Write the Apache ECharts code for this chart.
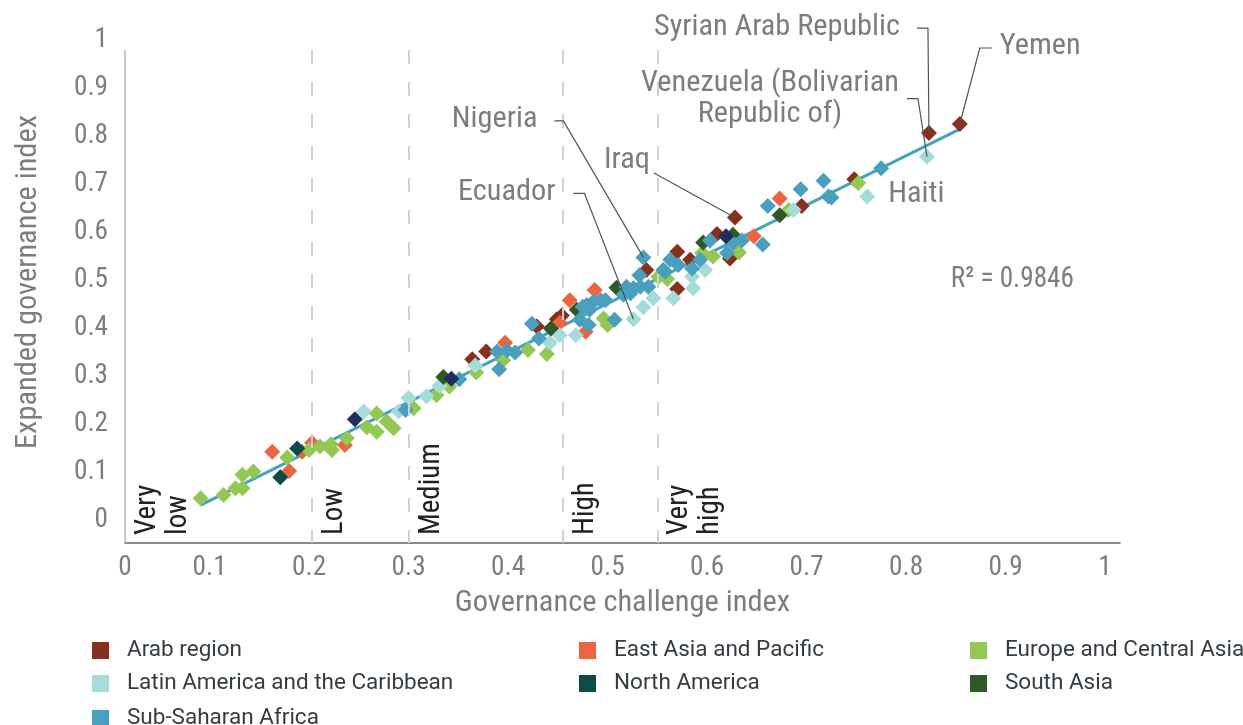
<!DOCTYPE html>
<html>
<head>
<meta charset="utf-8">
<script src="https://cdn.jsdelivr.net/npm/echarts@6/dist/echarts.min.js"></script>
<style>
  html, body { margin: 0; padding: 0; background: #ffffff; }
  #chart { width: 1243px; height: 725px; }
</style>
</head>
<body>
<div id="chart"></div>
<script>
// Governance challenge index (x) vs expanded governance index (y), one array per region.
// An optional third entry names a country that gets a callout.
const arabRegion = [
  [0.364, 0.335], [0.378, 0.351], [0.429, 0.403], [0.449, 0.418], [0.454, 0.426],
  [0.539, 0.521], [0.570, 0.559], [0.570, 0.481], [0.583, 0.542], [0.610, 0.596],
  [0.623, 0.545], [0.628, 0.630, 'Iraq'], [0.695, 0.654], [0.748, 0.710],
  [0.823, 0.806, 'Syrian Arab Republic'], [0.854, 0.825, 'Yemen']
];
const eastAsiaPacific = [
  [0.163, 0.142], [0.180, 0.102], [0.193, 0.142], [0.203, 0.161], [0.236, 0.156],
  [0.397, 0.369], [0.452, 0.411], [0.462, 0.458], [0.478, 0.392], [0.487, 0.479],
  [0.647, 0.591], [0.673, 0.670]
];
const europeCentralAsia = [
  [0.091, 0.045], [0.114, 0.052], [0.126, 0.066], [0.133, 0.066], [0.133, 0.094],
  [0.144, 0.101], [0.178, 0.130], [0.200, 0.146], [0.211, 0.153], [0.222, 0.158],
  [0.223, 0.146], [0.238, 0.170], [0.258, 0.193], [0.268, 0.222], [0.268, 0.184],
  [0.278, 0.205], [0.285, 0.191], [0.305, 0.233], [0.328, 0.260], [0.341, 0.278],
  [0.368, 0.307], [0.395, 0.333], [0.420, 0.354], [0.439, 0.346], [0.496, 0.420],
  [0.500, 0.406], [0.551, 0.506], [0.560, 0.502], [0.595, 0.556], [0.606, 0.549],
  [0.632, 0.557], [0.682, 0.646], [0.752, 0.702]
];
const latinAmericaCaribbean = [
  [0.255, 0.226], [0.290, 0.226], [0.300, 0.254], [0.318, 0.258], [0.331, 0.279],
  [0.367, 0.322], [0.442, 0.369], [0.452, 0.385], [0.468, 0.385],
  [0.526, 0.418, 'Ecuador'], [0.536, 0.443], [0.546, 0.462], [0.566, 0.462],
  [0.586, 0.483], [0.585, 0.507], [0.598, 0.521], [0.687, 0.646],
  [0.761, 0.674, 'Haiti'], [0.821, 0.757, 'Venezuela (Bolivarian Republic of)']
];
const northAmerica = [
  [0.188, 0.149], [0.171, 0.089]
];
const southAsia = [
  [0.335, 0.298], [0.443, 0.399], [0.469, 0.438], [0.509, 0.484], [0.596, 0.578],
  [0.626, 0.594], [0.673, 0.635]
];
const subSaharanAfrica = [
  [0.297, 0.229], [0.351, 0.293], [0.389, 0.351], [0.391, 0.314], [0.399, 0.353],
  [0.407, 0.349], [0.424, 0.409], [0.431, 0.378], [0.472, 0.417], [0.481, 0.406],
  [0.475, 0.444], [0.479, 0.448], [0.482, 0.438], [0.486, 0.455], [0.493, 0.458],
  [0.498, 0.458], [0.507, 0.417], [0.516, 0.469], [0.519, 0.486], [0.523, 0.472],
  [0.526, 0.483], [0.532, 0.510], [0.533, 0.486], [0.536, 0.547, 'Nigeria'],
  [0.541, 0.486], [0.556, 0.521], [0.558, 0.517], [0.563, 0.542], [0.571, 0.531],
  [0.585, 0.524], [0.593, 0.542], [0.603, 0.582], [0.620, 0.556], [0.626, 0.577],
  [0.635, 0.582], [0.656, 0.574], [0.661, 0.654], [0.694, 0.689], [0.717, 0.707],
  [0.722, 0.674], [0.725, 0.672], [0.775, 0.733]
];
const otherCountries = [
  [0.246, 0.210], [0.343, 0.294], [0.619, 0.591]
];

const xTicks = [0, 0.1, 0.2, 0.3, 0.4, 0.5, 0.6, 0.7, 0.8, 0.9, 1];
const xTickLabels = ['0', '0.1', '0.2', '0.3', '0.4', '0.5', '0.6', '0.7', '0.8', '0.9', '1'];
const yTicks = [0, 0.1, 0.2, 0.3, 0.4, 0.5, 0.6, 0.7, 0.8, 0.9, 1];
const yTickLabels = ['0', '0.1', '0.2', '0.3', '0.4', '0.5', '0.6', '0.7', '0.8', '0.9', '1'];

// Challenge bands: where each band starts on the x axis, and its name
const bandStarts = [0.015, 0.203, 0.300, 0.455, 0.550];
const bandNames = ['Very\nlow', 'Low', 'Medium', 'High', 'Very\nhigh'];

const rSquared = 0.9846;

const regionSeries = [
  { name: 'Arab region', data: arabRegion, color: '#85311b' },
  { name: 'East Asia and Pacific', data: eastAsiaPacific, color: '#ec6440' },
  { name: 'Europe and Central Asia', data: europeCentralAsia, color: '#93c854' },
  { name: 'Latin America and the Caribbean', data: latinAmericaCaribbean, color: '#a6dcd8' },
  { name: 'North America', data: northAmerica, color: '#0d4a48' },
  { name: 'South Asia', data: southAsia, color: '#2f5a27' },
  { name: 'Sub-Saharan Africa', data: subSaharanAfrica, color: '#4a9fbd' },
  { name: 'Other', data: otherCountries, color: '#1f2d5e' }
];

// ---- fonts: prefer a condensed face, size text to its design width ----
const measureCtx = document.createElement('canvas').getContext('2d');
function hasFont(family) {
  const s = 'Governance challenge index 0.123';
  measureCtx.font = '40px monospace'; const w0 = measureCtx.measureText(s).width;
  measureCtx.font = `40px '${family}', monospace`; const w1 = measureCtx.measureText(s).width;
  return Math.abs(w0 - w1) > 0.5;
}
const narrowFamily = ['Roboto Condensed', 'Liberation Sans Narrow', 'Arial Narrow', 'DejaVu Sans Condensed'].find(hasFont);
const FONT = narrowFamily ? `'${narrowFamily}'` : "'Roboto', sans-serif";
function textWidth(text, size) {
  measureCtx.font = `${size}px ${FONT}`;
  return Math.max(...text.split('\n').map(t => measureCtx.measureText(t).width));
}
// font size at which a sample string spans a given width
const sizeForWidth = (sample, width) => Math.round(40 * width / textWidth(sample, 40) * 10) / 10;
// horizontal scale so a sample string spans a given width at a given size
const squeezeFor = (sample, size, width) => Math.min(1.15, Math.max(0.8, width / textWidth(sample, size)));

const GREY = '#7d7d7d';
const tickSize = sizeForWidth('0.4', 34);
const titleSize = sizeForWidth('Governance challenge index', 335);
const noteSize = 30;
const noteSqueeze = squeezeFor('Syrian Arab Republic', noteSize, 246);
const fitNote = 'R² = ' + rSquared.toFixed(4);
const fitSqueeze = squeezeFor(fitNote, noteSize, 123);
const bandSize = 30;
const bandSqueeze = squeezeFor('Medium', bandSize, 92);

// ---- axis frame ----
const X_MIN = 0.015, X_MAX = 1.015;
const Y_MIN = -0.048, Y_MAX = 1.0, Y_LINE_TOP = 0.979;

// least-squares trend over every plotted country
const allPoints = regionSeries.flatMap(s => s.data);
const n = allPoints.length;
const mx = allPoints.reduce((a, p) => a + p[0], 0) / n;
const my = allPoints.reduce((a, p) => a + p[1], 0) / n;
let sxy = 0, sxx = 0;
allPoints.forEach(p => { sxy += (p[0] - mx) * (p[1] - my); sxx += (p[0] - mx) ** 2; });
const slope = sxy / sxx;
const intercept = my - slope * mx;
const xLo = Math.min(...allPoints.map(p => p[0]));
const xHi = Math.max(...allPoints.map(p => p[0]));
const trendData = [[xLo, intercept + slope * xLo], [xHi, intercept + slope * xHi]];

function nearestLabel(v, ticks, labels) {
  let best = 0;
  ticks.forEach((t, i) => { if (Math.abs(t - v) < Math.abs(ticks[best] - v)) best = i; });
  return labels[best];
}
const clampX = v => Math.min(Math.max(v, X_MIN), X_MAX);

const chart = echarts.init(document.getElementById('chart'), null, { renderer: 'canvas' });

// legend: one entry per slot, three columns
const legendSlots = [
  { name: 'Arab region', left: 92, top: 639 },
  { name: 'East Asia and Pacific', left: 579, top: 639 },
  { name: 'Europe and Central Asia', left: 970, top: 639 },
  { name: 'Latin America and the Caribbean', left: 92, top: 672 },
  { name: 'North America', left: 579, top: 672 },
  { name: 'South Asia', left: 970, top: 672 },
  { name: 'Sub-Saharan Africa', left: 92, top: 707 }
];

const option = {
  animation: false,
  backgroundColor: '#ffffff',
  grid: { left: 125, right: 123, top: 40, bottom: 182, containLabel: false },
  legend: legendSlots.map(s => ({
    left: s.left,
    top: s.top,
    data: [s.name],
    orient: 'horizontal',
    icon: 'rect',
    itemWidth: 17,
    itemHeight: 17,
    padding: 0,
    selectedMode: false,
    textStyle: { fontFamily: 'Roboto', fontSize: 22.5, lineHeight: 17, color: '#343c42', padding: [0, 0, 0, 13] }
  })),
  xAxis: {
    type: 'value',
    min: X_MIN,
    max: X_MAX,
    name: 'Governance challenge index',
    nameLocation: 'middle',
    nameGap: 45,
    nameTextStyle: { fontFamily: FONT, fontSize: titleSize, color: GREY },
    axisLine: { show: true, onZero: false, lineStyle: { color: '#5b6670', width: 1.5 } },
    axisTick: { show: false },
    splitLine: { show: false },
    axisLabel: {
      customValues: xTicks.map(clampX),
      formatter: v => nearestLabel(v, xTicks, xTickLabels),
      fontFamily: FONT, fontSize: tickSize, color: GREY, margin: 12
    }
  },
  yAxis: {
    type: 'value',
    min: Y_MIN,
    max: Y_MAX,
    name: 'Expanded governance index',
    nameLocation: 'middle',
    nameGap: 82,
    nameRotate: 90,
    nameTextStyle: { fontFamily: FONT, fontSize: titleSize, color: GREY, padding: [0, 0, 0, 19] },
    axisLine: { show: false, onZero: false },
    axisTick: { show: false },
    splitLine: { show: false },
    axisLabel: {
      customValues: yTicks,
      formatter: v => nearestLabel(v, yTicks, yTickLabels),
      fontFamily: FONT, fontSize: tickSize, color: GREY, margin: 17
    }
  },
  series: [
    {
      // axis frame line and band boundaries
      type: 'line',
      name: 'frame',
      data: [],
      silent: true,
      markLine: {
        silent: true,
        symbol: 'none',
        label: { show: false },
        emphasis: { disabled: true },
        data: [
          [{ coord: [X_MIN, Y_LINE_TOP], lineStyle: { color: '#b8b8b8', width: 1.5, type: 'solid' } },
           { coord: [X_MIN, Y_MIN] }]
        ].concat(bandStarts.slice(1).map(x => [
          { coord: [x, Y_LINE_TOP], lineStyle: { color: '#d0d0d0', width: 2, type: [14, 18] } },
          { coord: [x, Y_MIN] }
        ]))
      }
    },
    {
      type: 'line',
      name: 'trend',
      data: trendData,
      showSymbol: false,
      silent: true,
      z: 1,
      lineStyle: { color: '#45a2c7', width: 3 }
    }
  ].concat(regionSeries.map(s => ({
    type: 'scatter',
    name: s.name,
    data: s.data,
    symbol: 'diamond',
    symbolSize: 16,
    z: 3,
    itemStyle: { color: s.color, opacity: 1 },
    emphasis: { disabled: true }
  })))
};

chart.setOption(option);

// ---- annotations placed from data positions ----
const toPx = p => chart.convertToPixel({ xAxisIndex: 0, yAxisIndex: 0 }, p);
const findPoint = name => {
  for (const s of regionSeries) {
    const hit = s.data.find(d => d[2] === name);
    if (hit) return hit;
  }
  return null;
};

const graphics = [];

// band labels, reading upwards from the x axis
bandStarts.forEach((x, i) => {
  const p = toPx([x, Y_MIN]);
  graphics.push({
    type: 'text',
    x: p[0] + 7,
    y: p[1] - 8,
    rotation: Math.PI / 2,
    scaleX: bandSqueeze,
    silent: true,
    style: {
      text: bandNames[i],
      fontFamily: FONT,
      fontSize: bandSize,
      lineHeight: 31,
      fill: '#222222',
      align: 'left',
      verticalAlign: 'top'
    }
  });
});

// country callouts: text plus a leader line ending on the country's marker
const callouts = [
  { name: 'Syrian Arab Republic', text: 'Syrian Arab Republic', path: [[-1, -105], [-12, -105]], anchor: [-29, -106], align: 'right' },
  { name: 'Venezuela (Bolivarian Republic of)', text: 'Venezuela (Bolivarian\nRepublic of)', path: [[-9, -58], [-20, -58]], anchor: [-157, -58], align: 'center' },
  { name: 'Yemen', text: 'Yemen', path: [[20, -76], [32, -76]], anchor: [40, -77], align: 'left' },
  { name: 'Nigeria', text: 'Nigeria', path: [[-80, -136.5], [-89, -136.5]], anchor: [-106, -137.5], align: 'right' },
  { name: 'Ecuador', text: 'Ecuador', path: [[-49, -126], [-60, -126]], anchor: [-78, -127], align: 'right' },
  { name: 'Iraq', text: 'Iraq', path: [[-81, -44.5]], anchor: [-85, -57.5], align: 'right' },
  { name: 'Haiti', text: 'Haiti', path: [], anchor: [21, -1.5], align: 'left' }
];

callouts.forEach(c => {
  const d = findPoint(c.name);
  if (!d) return;
  const p = toPx([d[0], d[1]]);
  if (c.path.length) {
    const pts = [[p[0], p[1]]].concat(c.path.map(o => [p[0] + o[0], p[1] + o[1]]));
    graphics.push({
      type: 'polyline',
      silent: true,
      z: 10,
      shape: { points: pts },
      style: { stroke: '#4b5560', lineWidth: 1.2, fill: null }
    });
  }
  graphics.push({
    type: 'text',
    silent: true,
    z: 10,
    x: p[0] + c.anchor[0],
    y: p[1] + c.anchor[1],
    scaleX: noteSqueeze,
    style: {
      text: c.text,
      fontFamily: FONT,
      fontSize: noteSize,
      lineHeight: 31,
      fill: GREY,
      align: c.align,
      verticalAlign: 'middle'
    }
  });
});

// goodness of fit note
const r2Pos = toPx([0.845, 0.5]);
graphics.push({
  type: 'text',
  silent: true,
  x: r2Pos[0],
  y: r2Pos[1],
  scaleX: fitSqueeze,
  style: {
    text: fitNote,
    fontFamily: FONT,
    fontSize: noteSize,
    fill: GREY,
    align: 'left',
    verticalAlign: 'middle'
  }
});

chart.setOption({ graphic: { elements: graphics } });
</script>
</body>
</html>
